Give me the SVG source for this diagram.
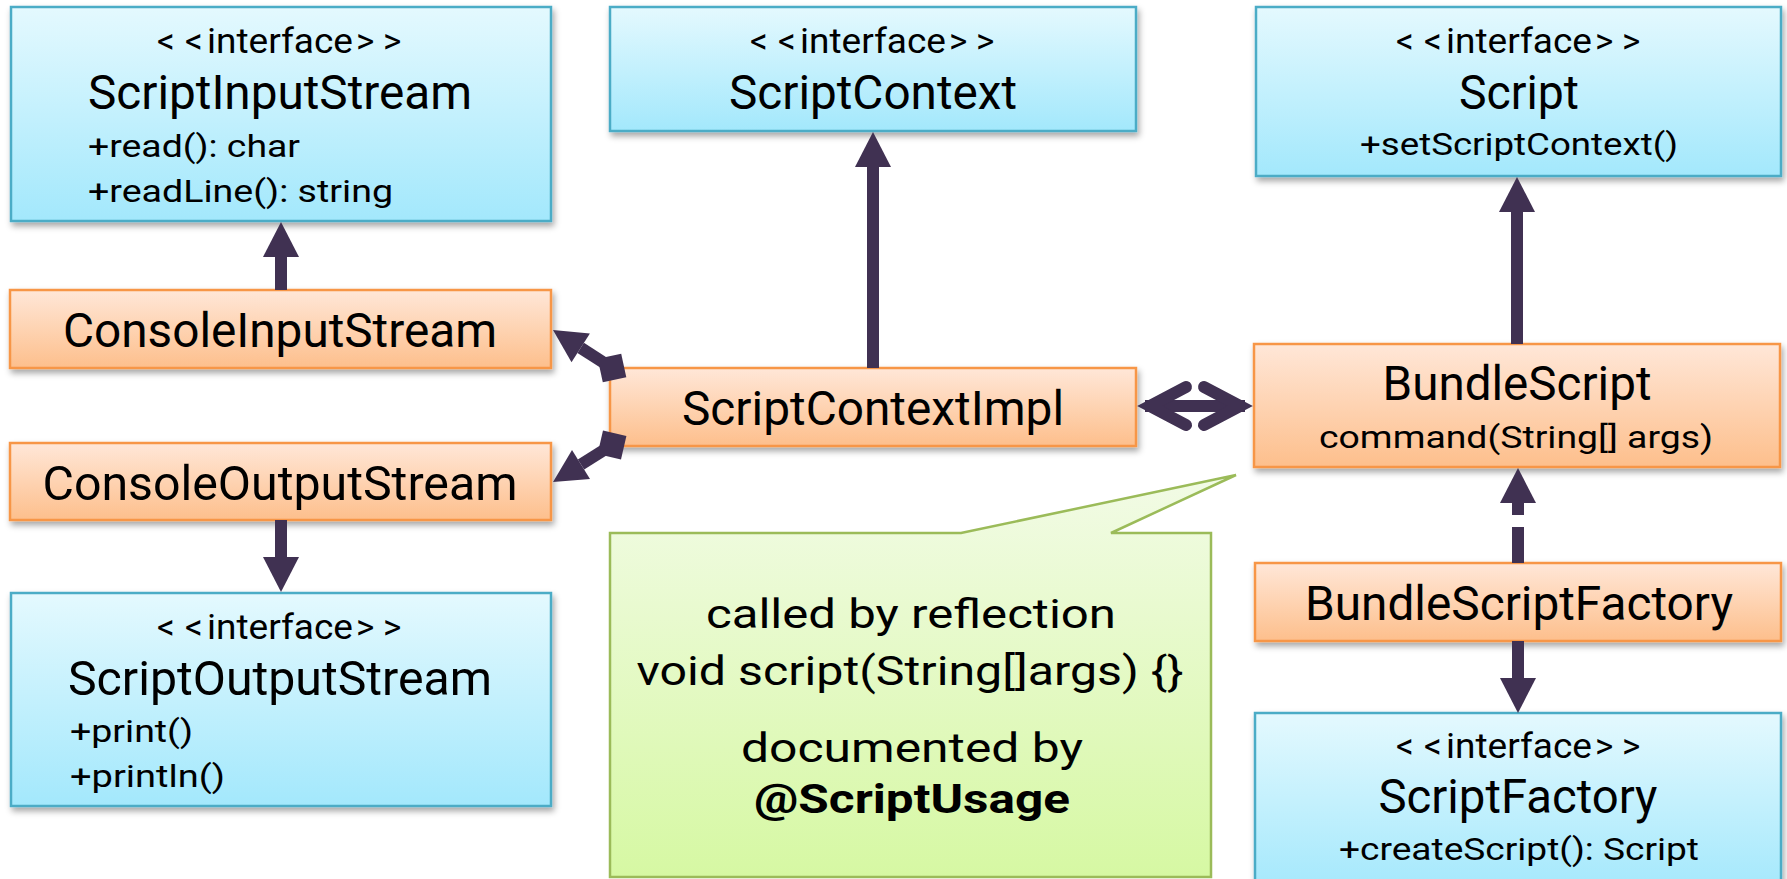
<svg xmlns="http://www.w3.org/2000/svg" width="1787" height="879" viewBox="0 0 1787 879">
<defs>
 <linearGradient id="gBlue" x1="0" y1="0" x2="0" y2="1"><stop offset="0" stop-color="#E4F9FE"/><stop offset="1" stop-color="#A3E8FC"/></linearGradient>
 <linearGradient id="gOrange" x1="0" y1="0" x2="0" y2="1"><stop offset="0" stop-color="#FFE7D8"/><stop offset="1" stop-color="#FDBF8C"/></linearGradient>
 <linearGradient id="gGreen" x1="0" y1="0" x2="0" y2="1"><stop offset="0" stop-color="#F2FBE6"/><stop offset="1" stop-color="#D6F8A3"/></linearGradient>
 <filter id="shadow" x="-5%" y="-10%" width="115%" height="130%"><feDropShadow dx="2" dy="4" stdDeviation="3" flood-color="#000" flood-opacity="0.35"/></filter>
 <marker id="head" markerUnits="userSpaceOnUse" markerWidth="35" markerHeight="36" viewBox="0 0 35 36" refX="0" refY="18" orient="auto"><path d="M0,0 L35,18 L0,36 Z" fill="#403152"/></marker>
</defs>
<style>
 .blue{fill:url(#gBlue);stroke:#4BACC6;stroke-width:2.5;filter:url(#shadow)}
 .orange{fill:url(#gOrange);stroke:#F79646;stroke-width:2.5;filter:url(#shadow)}
 .green{fill:url(#gGreen);stroke:#9BBB59;stroke-width:2.5}
 text{font-family:Roboto,"Noto Sans",sans-serif;fill:#000}
 .st{font-size:35px}
 .ttl{font-size:48px;text-anchor:middle}
 .mem{font-size:32px}
 .memc{font-size:32px;text-anchor:middle}
 .note{font-size:41px;text-anchor:middle}
 .bold{font-weight:bold}
 .conn{stroke:#403152;stroke-width:12;fill:none}
 .arr{marker-end:url(#head)}
 .fc{fill:#403152}
</style>
<rect width="1787" height="879" fill="#fff"/>

<g id="callout">
 <path class="green" d="M610,533 L961,533 L1236,475 L1111,533 L1211,533 L1211,877 L610,877 Z"/>
 <text class="note" x="911" y="628" textLength="410" lengthAdjust="spacingAndGlyphs">called by reflection</text>
 <text class="note" x="910" y="685" textLength="547" lengthAdjust="spacingAndGlyphs">void script(String[]args) {}</text>
 <text class="note" x="912" y="762" textLength="342" lengthAdjust="spacingAndGlyphs">documented by</text>
 <text class="note bold" x="912" y="813" textLength="316" lengthAdjust="spacingAndGlyphs">@ScriptUsage</text>
</g>

<g id="scriptInputStream">
 <rect class="blue" x="11" y="7" width="540" height="214"/>
 <text class="st" y="53"><tspan x="157">&lt;</tspan><tspan x="185">&lt;</tspan><tspan x="207" textLength="146" lengthAdjust="spacingAndGlyphs">interface</tspan><tspan x="356">&gt;</tspan><tspan x="383">&gt;</tspan></text>
 <text class="ttl" x="280" y="109" textLength="384" lengthAdjust="spacingAndGlyphs">ScriptInputStream</text>
 <text class="mem" x="88" y="157" textLength="212" lengthAdjust="spacingAndGlyphs">+read(): char</text>
 <text class="mem" x="88" y="202" textLength="305" lengthAdjust="spacingAndGlyphs">+readLine(): string</text>
</g>

<g id="scriptContext">
 <rect class="blue" x="610" y="7" width="526" height="124"/>
 <text class="st" y="53"><tspan x="750">&lt;</tspan><tspan x="778">&lt;</tspan><tspan x="800" textLength="146" lengthAdjust="spacingAndGlyphs">interface</tspan><tspan x="949">&gt;</tspan><tspan x="976">&gt;</tspan></text>
 <text class="ttl" x="873" y="109" textLength="288" lengthAdjust="spacingAndGlyphs">ScriptContext</text>
</g>

<g id="script">
 <rect class="blue" x="1256" y="7" width="525" height="169"/>
 <text class="st" y="53"><tspan x="1396">&lt;</tspan><tspan x="1424">&lt;</tspan><tspan x="1446" textLength="146" lengthAdjust="spacingAndGlyphs">interface</tspan><tspan x="1595">&gt;</tspan><tspan x="1622">&gt;</tspan></text>
 <text class="ttl" x="1519" y="109" textLength="120" lengthAdjust="spacingAndGlyphs">Script</text>
 <text class="memc" x="1519" y="155" textLength="318" lengthAdjust="spacingAndGlyphs">+setScriptContext()</text>
</g>

<g id="consoleInputStream">
 <rect class="orange" x="10" y="290" width="541" height="78"/>
 <text class="ttl" x="280" y="347" textLength="434" lengthAdjust="spacingAndGlyphs">ConsoleInputStream</text>
</g>

<g id="consoleOutputStream">
 <rect class="orange" x="10" y="443" width="541" height="77"/>
 <text class="ttl" x="280" y="500" textLength="475" lengthAdjust="spacingAndGlyphs">ConsoleOutputStream</text>
</g>

<g id="scriptContextImpl">
 <rect class="orange" x="610" y="368" width="526" height="78"/>
 <text class="ttl" x="873" y="425" textLength="382" lengthAdjust="spacingAndGlyphs">ScriptContextImpl</text>
</g>

<g id="bundleScript">
 <rect class="orange" x="1254" y="344" width="526" height="123"/>
 <text class="ttl" x="1517" y="400" textLength="269" lengthAdjust="spacingAndGlyphs">BundleScript</text>
 <text class="memc" x="1516" y="448" textLength="394" lengthAdjust="spacingAndGlyphs">command(String[] args)</text>
</g>

<g id="bundleScriptFactory">
 <rect class="orange" x="1255" y="563" width="526" height="78"/>
 <text class="ttl" x="1519" y="620" textLength="428" lengthAdjust="spacingAndGlyphs">BundleScriptFactory</text>
</g>

<g id="scriptOutputStream">
 <rect class="blue" x="11" y="593" width="540" height="213"/>
 <text class="st" y="639"><tspan x="157">&lt;</tspan><tspan x="185">&lt;</tspan><tspan x="207" textLength="146" lengthAdjust="spacingAndGlyphs">interface</tspan><tspan x="356">&gt;</tspan><tspan x="383">&gt;</tspan></text>
 <text class="ttl" x="280" y="695" textLength="424" lengthAdjust="spacingAndGlyphs">ScriptOutputStream</text>
 <text class="mem" x="70" y="742" textLength="123" lengthAdjust="spacingAndGlyphs">+print()</text>
 <text class="mem" x="70" y="787" textLength="155" lengthAdjust="spacingAndGlyphs">+println()</text>
</g>

<g id="scriptFactory">
 <rect class="blue" x="1255" y="713" width="526" height="180"/>
 <text class="st" y="758"><tspan x="1396">&lt;</tspan><tspan x="1424">&lt;</tspan><tspan x="1446" textLength="146" lengthAdjust="spacingAndGlyphs">interface</tspan><tspan x="1595">&gt;</tspan><tspan x="1622">&gt;</tspan></text>
 <text class="ttl" x="1518" y="813" textLength="279" lengthAdjust="spacingAndGlyphs">ScriptFactory</text>
 <text class="memc" x="1519" y="860" textLength="360" lengthAdjust="spacingAndGlyphs">+createScript(): Script</text>
</g>

<g id="connectors">
 <line class="conn arr" x1="281" y1="290" x2="281" y2="257"/>
 <line class="conn arr" x1="873" y1="368" x2="873" y2="167"/>
 <line class="conn arr" x1="1517" y1="344" x2="1517" y2="212"/>
 <line class="conn arr" x1="1518" y1="563" x2="1518" y2="503" stroke-dasharray="36 12"/>
 <line class="conn arr" x1="1518" y1="641" x2="1518" y2="678"/>
 <line class="conn arr" x1="281" y1="520" x2="281" y2="557"/>
 <line class="conn" x1="1145" y1="406" x2="1245" y2="406"/>
 <polyline class="conn" stroke-width="13" stroke-linecap="round" stroke-linejoin="miter" points="1186,387 1150,406 1186,425"/>
 <polyline class="conn" stroke-width="13" stroke-linecap="round" stroke-linejoin="miter" points="1204,387 1240,406 1204,425"/>
 <line class="conn" x1="612" y1="368" x2="580.7" y2="347.9"/>
 <polygon class="fc" points="553,330 589.9,333.6 571.5,362.2"/>
 <polygon class="fc" points="597.7,358.8 621.2,353.7 626.3,377.2 602.8,382.3"/>
 <line class="conn" x1="612" y1="445" x2="581" y2="464.5"/>
 <polygon class="fc" points="553,482 590,478.9 572,450.1"/>
 <polygon class="fc" points="597.6,454 603,430.6 626.4,436 621,459.4"/>
</g>
</svg>
